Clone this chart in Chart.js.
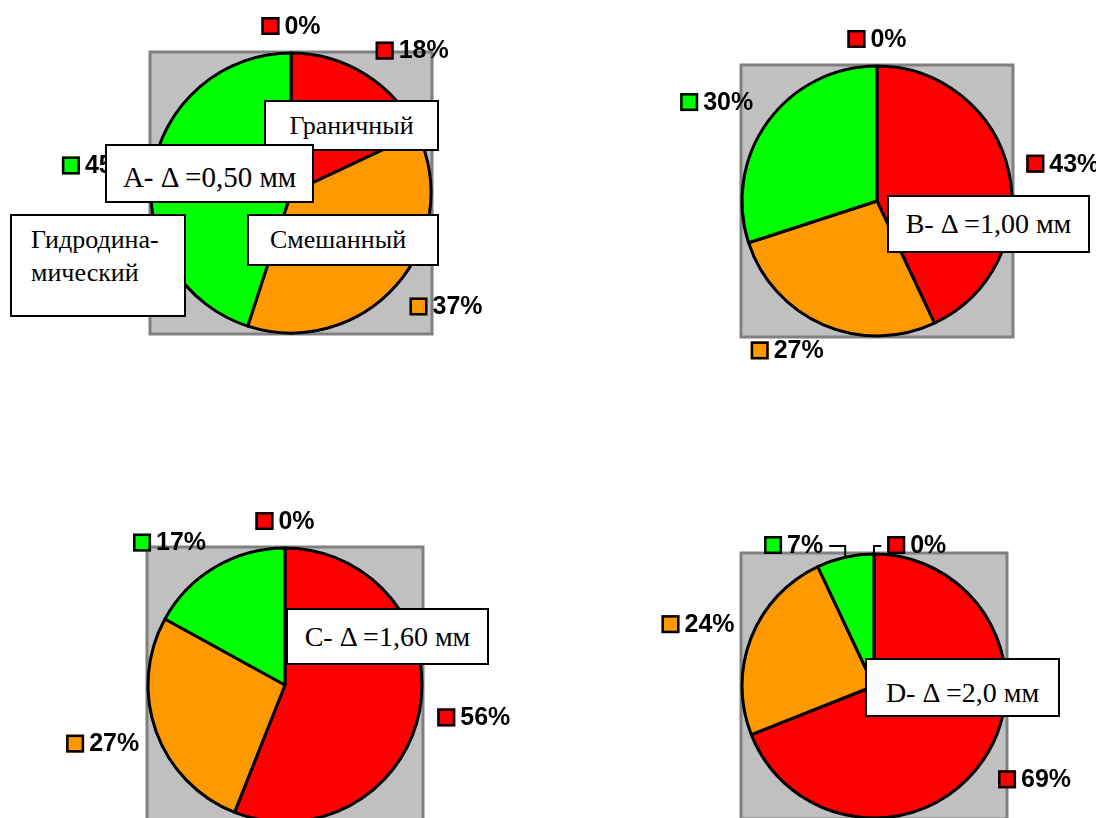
<!DOCTYPE html>
<html lang="ru">
<head>
<meta charset="utf-8">
<title>Режимы трения</title>
<script src="https://cdn.jsdelivr.net/npm/chart.js@4.4.1/dist/chart.umd.min.js"></script>
<style>
  html, body { margin: 0; padding: 0; background: #fff; }
  #page { position: relative; width: 1096px; height: 818px; overflow: hidden; }
  #page canvas { position: absolute; left: 0; top: 0; }
  .note {
    position: absolute;
    box-sizing: border-box;
    background: #fff;
    border: 2px solid #000;
    font-family: "Liberation Serif", "Times New Roman", serif;
    font-size: 28px;
    color: #000;
    display: flex;
    align-items: center;
    justify-content: center;
    white-space: nowrap;
  }
</style>
</head>
<body>
<div id="page">
  <canvas id="chartA" width="1096" height="900"></canvas>
  <canvas id="chartB" width="1096" height="900"></canvas>
  <canvas id="chartC" width="1096" height="900"></canvas>
  <canvas id="chartD" width="1096" height="900"></canvas>

  <div class="note" style="left:264px;top:100px;width:175px;height:51px;font-size:26px;">Граничный</div>
  <div class="note" style="left:105px;top:144px;width:209px;height:59px;font-size:29px;padding-top:8px;">A- Δ =0,50 мм</div>
  <div class="note" style="left:10px;top:214px;width:176px;height:103px;font-size:26px;line-height:33px;align-items:flex-start;justify-content:flex-start;padding:7px 0 0 19px;">Гидродина-<br>мический</div>
  <div class="note" style="left:247px;top:214px;width:192px;height:52px;font-size:26px;padding-right:10px;">Смешанный</div>

  <div class="note" style="left:887px;top:195px;width:203px;height:58px;">B- Δ =1,00 мм</div>
  <div class="note" style="left:286px;top:608px;width:203px;height:57px;">C- Δ =1,60 мм</div>
  <div class="note" style="left:865px;top:658px;width:195px;height:59px;padding-top:10px;">D- Δ =2,0 мм</div>
</div>
<script>
// friction regimes, share of cases, %
const categories = ["", "Граничный", "Смешанный", "Гидродинамический"];
const valuesA = [0, 18, 37, 45];
const valuesB = [0, 43, 27, 30];
const valuesC = [0, 56, 27, 17];
const valuesD = [0, 69, 24, 7];

const sliceColors = ["#FF0000", "#FF0000", "#FF9900", "#00FF00"];
const PIE_BORDER = 3;

// grey square behind each pie, taken from the pie's own geometry
const plotBackground = {
  id: "plotBackground",
  beforeDatasetsDraw(chart) {
    const arc = chart.getDatasetMeta(0).data[0];
    const { x, y, outerRadius } = arc.getProps(["x", "y", "outerRadius"], true);
    const half = outerRadius + 1;
    const ctx = chart.ctx;
    ctx.save();
    ctx.fillStyle = "#C0C0C0";
    ctx.fillRect(x - half, y - half, half * 2, half * 2);
    ctx.strokeStyle = "#808080";
    ctx.lineWidth = 3;
    ctx.strokeRect(x - half, y - half, half * 2, half * 2);
    ctx.restore();
  },
};

const clamp = (v) => Math.max(-1, Math.min(1, v));

// excel-like percent labels with a colour key, outside the end of each slice
const percentLabels = {
  id: "percentLabels",
  afterDatasetsDraw(chart) {
    const ctx = chart.ctx;
    const ds = chart.data.datasets[0];
    const key = 18;
    const gap = 5;
    const hh = 9;
    ctx.save();
    ctx.font = "bold 25px 'Liberation Sans', Arial, sans-serif";

    const boxes = chart.getDatasetMeta(0).data.map((arc, i) => {
      const p = arc.getProps(["x", "y", "startAngle", "endAngle", "outerRadius"], true);
      const mid = (p.startAngle + p.endAngle) / 2;
      const dx = Math.cos(mid);
      const dy = Math.sin(mid);
      const text = ds.data[i] + "%";
      const w = key + gap + ctx.measureText(text).width;
      const d = p.outerRadius + 18;
      // label hangs off the anchor by its nearest corner / edge
      return {
        text: text,
        color: ds.backgroundColor[i],
        w: w,
        cx: p.x + dx * d + (clamp(dx * 2) * w) / 2,
        cy: p.y + dy * d + clamp(dy * 2) * hh,
        ax: p.x + dx * p.outerRadius,
        ay: p.y + dy * p.outerRadius,
        top: p.y - p.outerRadius,
        leader: false,
      };
    });

    // push colliding labels apart and hang them on leader lines
    for (let i = 0; i < boxes.length; i++) {
      for (let j = i + 1; j < boxes.length; j++) {
        const a = boxes[i];
        const b = boxes[j];
        const hit =
          Math.abs(a.cx - b.cx) < (a.w + b.w) / 2 + 4 &&
          Math.abs(a.cy - b.cy) < hh * 2 + 2;
        if (!hit) continue;
        const left = a.cx <= b.cx ? a : b;
        const right = left === a ? b : a;
        const centre = (left.cx + right.cx) / 2 + 4;
        const sep = (left.w + right.w) / 2 + 64;
        left.cx = centre - sep / 2;
        right.cx = centre + sep / 2;
        left.cy = right.cy = left.top - hh;
        left.leader = right.leader = true;
      }
    }

    boxes.forEach((b) => {
      const x0 = b.cx - b.w / 2;
      const y0 = b.cy - key / 2;
      ctx.fillStyle = b.color;
      ctx.fillRect(x0, y0, key, key);
      ctx.strokeStyle = "#000";
      ctx.lineWidth = 2.5;
      ctx.strokeRect(x0 + 1.25, y0 + 1.25, key - 2.5, key - 2.5);
      ctx.fillStyle = "#000";
      ctx.textBaseline = "middle";
      ctx.textAlign = "left";
      ctx.fillText(b.text, x0 + key + gap, b.cy + 1);

      if (b.leader) {
        const sx = b.ax > b.cx ? b.cx + b.w / 2 + 6 : x0 - 6;
        ctx.lineWidth = 2;
        ctx.beginPath();
        ctx.moveTo(sx, b.cy + 1);
        ctx.lineTo(b.ax, b.cy + 1);
        ctx.lineTo(b.ax, b.ay);
        ctx.stroke();
      }
    });
    ctx.restore();
  },
};

// where each pie sits on the page: centre and radius
const W = 1096;
const H = 900;

function pieChart(id, values, cx, cy, r) {
  const half = r + PIE_BORDER / 2;
  return new Chart(document.getElementById(id), {
    type: "pie",
    data: {
      labels: categories,
      datasets: [
        {
          data: values,
          backgroundColor: sliceColors,
          borderColor: "#000",
          borderWidth: PIE_BORDER,
        },
      ],
    },
    options: {
      responsive: false,
      animation: false,
      devicePixelRatio: 1,
      layout: {
        padding: {
          left: cx - half,
          top: cy - half,
          right: W - (cx + half),
          bottom: H - (cy + half),
        },
      },
      plugins: {
        legend: { display: false },
        tooltip: { enabled: false },
      },
    },
    plugins: [plotBackground, percentLabels],
  });
}

pieChart("chartA", valuesA, 291, 193, 140);
pieChart("chartB", valuesB, 877, 201, 135);
pieChart("chartC", valuesC, 285, 685, 137);
pieChart("chartD", valuesD, 874, 686, 132);
</script>
</body>
</html>
